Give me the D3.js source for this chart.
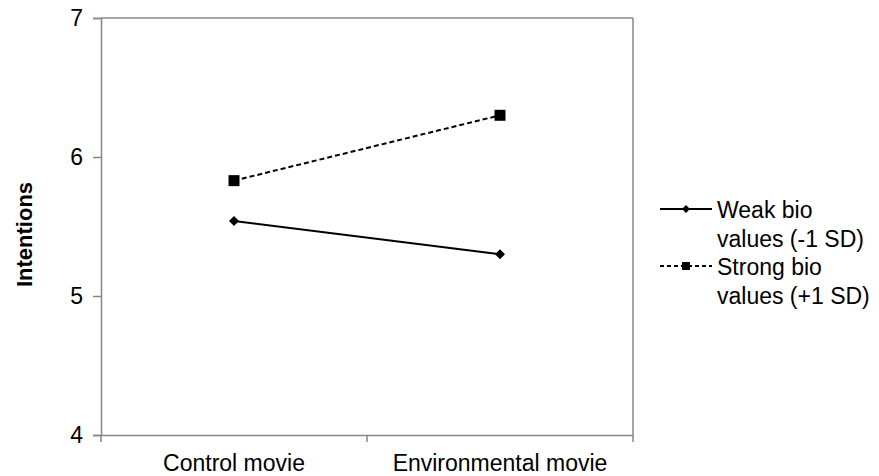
<!DOCTYPE html>
<html><head><meta charset="utf-8">
<script src="https://cdn.jsdelivr.net/npm/d3@7"></script>
<style>body{margin:0;background:#fff}svg text{font-family:"Liberation Sans",Arial,sans-serif}</style>
</head><body><svg id="c" width="879" height="476"></svg>
<script>
const categories = ["Control movie", "Environmental movie"];
const weakValues = [5.54, 5.30];
const strongValues = [5.83, 6.30];
const seriesNames = [["Weak bio", "values (-1 SD)"], ["Strong bio", "values (+1 SD)"]];
const yTicks = [4, 5, 6, 7];
const yLabel = "Intentions";

const svg = d3.select("#c");
const m = {l:101, r:633, t:18, b:435};
const x = d3.scaleBand().domain(categories).range([m.l, m.r]);
const y = d3.scaleLinear().domain([4, 7]).range([m.b, m.t]);
const axisColor = "#868686";
const FS = 23;

svg.append("line").attr("x1", m.l).attr("x2", m.r).attr("y1", m.t).attr("y2", m.t).attr("stroke", axisColor).attr("stroke-width", 1.5);
svg.append("line").attr("x1", m.r).attr("x2", m.r).attr("y1", m.t).attr("y2", m.b).attr("stroke", axisColor).attr("stroke-width", 1.5);

const yAx = svg.append("g").attr("transform", `translate(${m.l},0)`)
  .call(d3.axisLeft(y).tickValues(yTicks).tickSize(8).tickPadding(10).tickFormat(d3.format("d")));
yAx.select(".domain").attr("stroke", axisColor).attr("stroke-width", 1.5);
yAx.selectAll(".tick line").attr("stroke", axisColor).attr("stroke-width", 1.5);
yAx.selectAll("text").attr("font-size", FS).attr("fill", "#000");

const xAx = svg.append("g").attr("transform", `translate(0,${m.b})`)
  .call(d3.axisBottom(x).tickSize(0).tickPadding(20));
xAx.select(".domain").attr("stroke", axisColor).attr("stroke-width", 1.5);
xAx.selectAll("text").attr("font-size", FS).attr("fill", "#000");
const bounds = [m.l, m.l + x.bandwidth(), m.r];
xAx.selectAll(".btick").data(bounds).enter().append("line")
  .attr("x1", d => d).attr("x2", d => d).attr("y1", 0).attr("y2", 7)
  .attr("stroke", axisColor).attr("stroke-width", 1.5);

svg.append("text").attr("transform", `translate(32,${(m.t+m.b)/2 + 8}) rotate(-90)`)
  .attr("text-anchor", "middle").attr("font-size", 22).attr("font-weight", "bold").text(yLabel);

const cx = d => x(d) + x.bandwidth()/2;
const line = d3.line().x((d,i) => cx(categories[i])).y(d => y(d));
svg.append("path").datum(weakValues).attr("d", line).attr("fill", "none").attr("stroke", "#000").attr("stroke-width", 2);
svg.append("path").datum(strongValues).attr("d", line).attr("fill", "none").attr("stroke", "#000").attr("stroke-width", 2).attr("stroke-dasharray", "5,3");

const diamond = d3.symbol().type(d3.symbolDiamond2).size(64);
const square = d3.symbol().type(d3.symbolSquare).size(121);
svg.selectAll(".dm").data(weakValues).enter().append("path")
  .attr("d", diamond).attr("transform", (d,i) => `translate(${cx(categories[i])},${y(d)})`).attr("fill", "#000");
svg.selectAll(".sq").data(strongValues).enter().append("path")
  .attr("d", square).attr("transform", (d,i) => `translate(${cx(categories[i])},${y(d)})`).attr("fill", "#000");

const lg = svg.append("g");
const rows = [{y:209, dash:null}, {y:266, dash:"4,3"}];
rows.forEach((r, i) => {
  lg.append("line").attr("x1", 660).attr("x2", 712).attr("y1", r.y).attr("y2", r.y)
    .attr("stroke", "#000").attr("stroke-width", 2).attr("stroke-dasharray", r.dash);
  lg.append("path").attr("d", i === 0 ? d3.symbol().type(d3.symbolDiamond2).size(40)() : d3.symbol().type(d3.symbolSquare).size(64)())
    .attr("transform", `translate(686,${r.y})`).attr("fill", "#000");
  const t = lg.append("text").attr("x", 717).attr("y", r.y + 9).attr("font-size", FS);
  seriesNames[i].forEach((s, k) => t.append("tspan").attr("x", 717).attr("dy", k === 0 ? 0 : 28.5).text(s));
});
</script></body></html>
